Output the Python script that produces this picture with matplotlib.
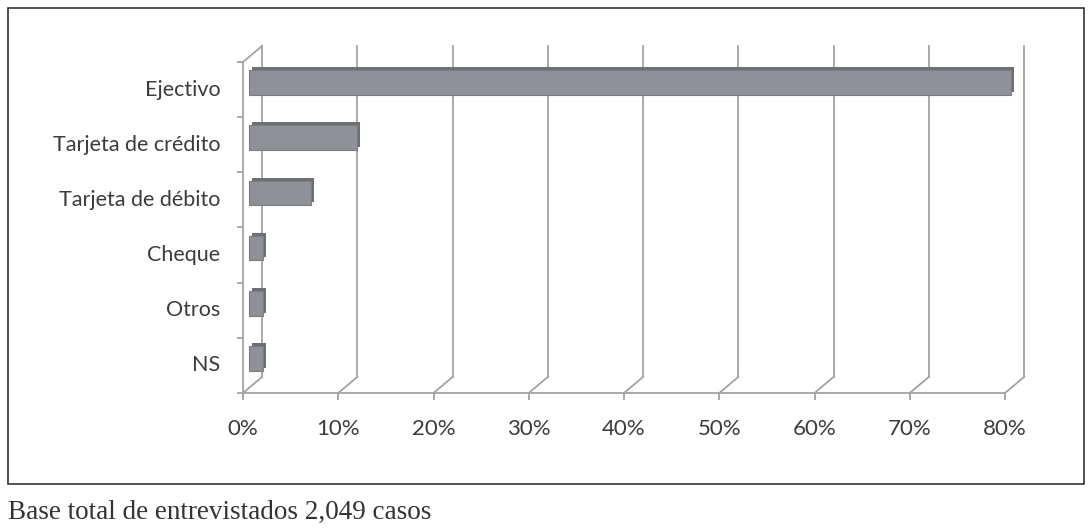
import matplotlib.pyplot as plt
import matplotlib.transforms as mtransforms
from matplotlib.patches import Rectangle

# datos
categorias = ["Ejectivo", "Tarjeta de crédito", "Tarjeta de débito", "Cheque", "Otros", "NS"]
porcentajes = [80, 11.3, 6.5, 1.5, 1.5, 1.5]
ticks_x = [0, 10, 20, 30, 40, 50, 60, 70, 80]
etiquetas_x = ["0%", "10%", "20%", "30%", "40%", "50%", "60%", "70%", "80%"]
nota = "Base total de entrevistados 2,049 casos"

gris = "#a3a3a3"
texto = "#3c3c3c"

fig = plt.figure(figsize=(10.89, 5.29), dpi=100)

# marco exterior
fig.patches.append(Rectangle((8 / 1089, 1 - 484 / 529), (1084 - 8) / 1089, (484 - 8) / 529,
                             transform=fig.transFigure, fill=False, edgecolor="#333333", lw=1.2))
fig.text(8 / 1089, 1 - 512 / 529, nota, family="Liberation Serif", fontsize=19.5,
         color="#333333", va="center", ha="left")

ax = fig.add_axes([243 / 1089, 1 - 393 / 529, 762 / 1089, 331 / 529])
ax.set_xlim(0, 80)
ax.set_ylim(-0.5, 5.5)
for s in ax.spines.values():
    s.set_visible(False)
ax.patch.set_visible(False)

# desplazamientos pseudo 3D
fondo = mtransforms.offset_copy(ax.transData, fig=fig, x=19, y=16, units="dots")
medio = mtransforms.offset_copy(ax.transData, fig=fig, x=6, y=7, units="dots")
lado = mtransforms.offset_copy(ax.transData, fig=fig, x=9, y=10, units="dots")

y = list(range(len(categorias)))[::-1]

# pared del fondo y piso
for t in ticks_x:
    ax.plot([t, t], [-0.5, 5.5], color=gris, lw=1.3, transform=fondo, clip_on=False)
ax.plot([0, 80], [-0.5, -0.5], color=gris, lw=1.3, clip_on=False)
ax.plot([0, 0], [-0.5, 5.5], color=gris, lw=1.3, clip_on=False)

# diagonales del piso y pared izquierda
for t in ticks_x:
    p0 = ax.transData.transform((t, -0.5))
    p1 = fondo.transform((t, -0.5))
    ax.plot([p0[0], p1[0]], [p0[1], p1[1]], color=gris, lw=1.3, transform=None, clip_on=False)
p0 = ax.transData.transform((0, 5.5))
p1 = fondo.transform((0, 5.5))
ax.plot([p0[0], p1[0]], [p0[1], p1[1]], color=gris, lw=1.3, transform=None, clip_on=False)

# barras con profundidad
ax.barh(y, porcentajes, height=0.45, color="#6c6f73", transform=lado, clip_on=False, zorder=3)
ax.barh(y, porcentajes, height=0.45, color="#8e9195", edgecolor="#7b7e82", lw=0.8,
        transform=medio, clip_on=False, zorder=4)

# ejes
ax.set_xticks(ticks_x)
ax.set_xticklabels(etiquetas_x, family="Lato", fontsize=16, color=texto)
ax.tick_params(axis="x", length=5, color=gris, width=1.3, pad=14)
ax.set_yticks([v + 0.5 for v in range(-1, 6)])
ax.set_yticklabels([])
ax.tick_params(axis="y", length=4, color=gris, width=1.3)
for yi, c in zip(y, categorias):
    ax.text(-2.4, yi, c, family="Lato", fontsize=15.5, color=texto, ha="right", va="center")

plt.savefig("out.png", dpi=100)
